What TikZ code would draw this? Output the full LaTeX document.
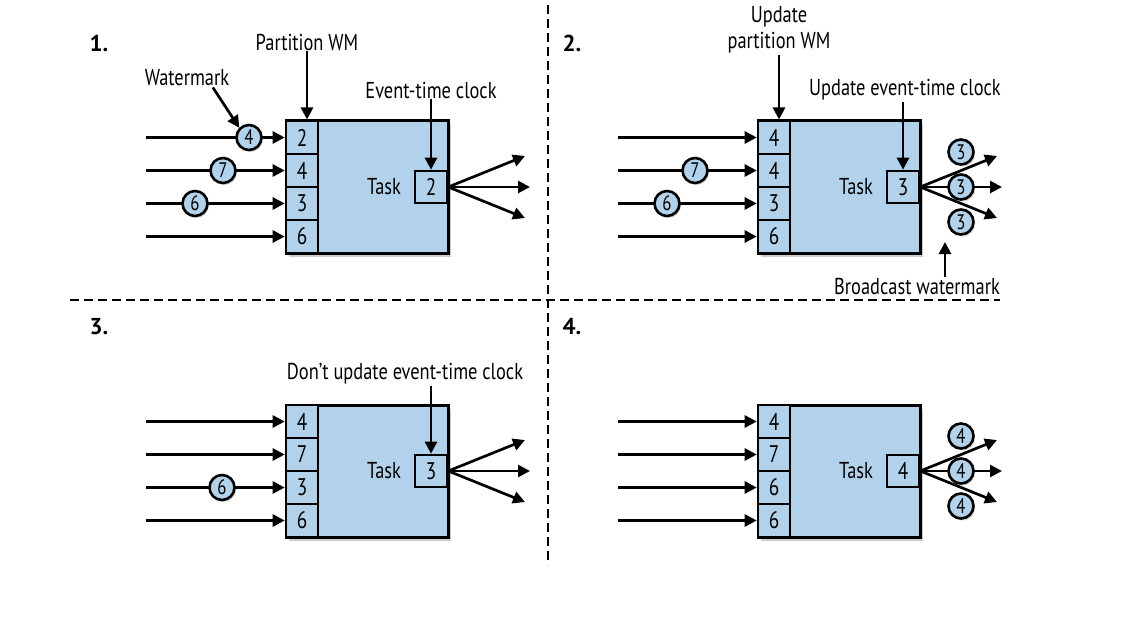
\documentclass[tikz,border=0pt]{standalone}
\usepackage{fontspec}
\setmainfont{PT Sans}[FakeStretch=0.8]
\newfontfamily\numfont{PT Sans}
\usetikzlibrary{arrows.meta,shadows}
\definecolor{taskblue}{RGB}{178,210,236}

\begin{document}
\begin{tikzpicture} [x=1pt, y=-1pt,
                     arr/.style= {line width=2.7pt,
                                  -{Triangle[length=12pt,width=12pt]}},
                     taskbox/.style= {draw, line width=3pt, fill=taskblue,
                                      minimum width=162, minimum height=132,
                                      inner sep=0,
                                      drop shadow={shadow xshift=2.5pt,
                                                   shadow yshift=-3.5pt,
                                                   opacity=0.4}},
                     cell/.style= {draw, line width=2.6pt, fill=taskblue,
                                   minimum width=32, minimum height=33,
                                   inner sep=0,
                                   font=\fontsize{24}{26}\selectfont},
                     wm/.style= {circle, draw, line width=2.6pt,
                                 fill=taskblue, minimum size=25, inner sep=0,
                                 font=\fontsize{21}{22}\selectfont,
                                 drop shadow={shadow xshift=1.5pt,
                                              shadow yshift=-2pt,
                                              opacity=0.35}},
                     lbl/.style= {font=\fontsize{23}{26}\selectfont,
                                  inner sep=1pt},
                     num/.style= {font=\numfont\bfseries\fontsize{23}{25}\selectfont},
                     sep/.style= {line width=2.4pt, dash pattern=on 9pt off 5pt}]

\useasboundingbox (0,0) rectangle (1139,620);

% separators
\draw[sep] (70,300) -- (1000,300);
\draw[sep] (548,5) -- (548,565);

% the four tasks
\foreach \n/\sx/\sy/\va/\vb/\vc/\vd/\vk in {1/0/0/2/4/3/6/2, 2/472/0/4/4/3/6/3,
                                            3/0/284/4/7/3/6/3, 4/472/284/4/7/6/6/4}{%
  \begin{scope}[shift={(\sx,\sy)}]
    \node[taskbox] (task\n) at (367,187) {};
    \foreach \v [count=\i] in {\va,\vb,\vc,\vd}{\node[cell] (c\n;\i) at (302,104.5+33*\i) {\v};}
    \node[cell, minimum width=32, minimum height=32] (clk\n) at (431,187) {\vk};
    \node[lbl, font=\fontsize{23}{26}\selectfont] (tl\n) at (384,187) {Task};
    \foreach \i in {1,...,4}{\coordinate (in\n;\i) at (146,104.5+33*\i);
                             \draw[arr] (in\n;\i) -- (c\n;\i.west);}
    \foreach \k/\ox/\oy in {1/525/156, 2/530/187, 3/525/218}{\coordinate (o\n;\k) at (\ox,\oy);
                                                          \draw[arr] (clk\n.east) -- (o\n;\k);}
  \end{scope}}

% panel numbers
\node[num] (n1) at (99,43) {1.};
\node[num] (n2) at (572,43) {2.};
\node[num] (n3) at (99,327) {3.};
\node[num] (n4) at (572,327) {4.};

% watermarks in the channels
\node[wm] (w1;1) at (249,137.5) {4};
\node[wm] (w1;2) at (223,170.5) {7};
\node[wm] (w1;3) at (195,203.5) {6};
\node[wm] (w2;2) at (695,170.5) {7};
\node[wm] (w2;3) at (667,203.5) {6};
\node[wm] (w3;3) at (222,487.5) {6};

% broadcast watermarks
\foreach \k/\oy in {1/152, 2/187, 3/222}{\node[wm] (b2;\k) at (961,\oy) {3};
                                        \node[wm] (b4;\k) at (961,284+\oy) {4};}

% panel 1
\node[lbl] (wml) at (187,78) {Watermark};
\draw[arr] (wml.-20) -- (w1;1.north west);
\node[lbl] (pwm1) at (307,42) {Partition WM};
\draw[arr] (pwm1.south) -- (pwm1.south |- task1.north);
\node[lbl] (etc1) at (431,90) {Event-time clock};
\draw[arr] (etc1.south -| clk1) -- (clk1.north);

% panel 2
\node[lbl, align=center] (pwm2) at (779,30) {Update\\partition WM};
\draw[arr] (pwm2.south) -- (pwm2.south |- task2.north);
\node[lbl] (etc2) at (905,90) {Update event-time clock};
\draw[arr] (etc2.south -| clk2) -- (clk2.north);
\node[lbl] (bc) at (917,286) {Broadcast watermark};
\coordinate (bctip) at (945,242);
\draw[arr] (bc.north -| bctip) -- (bctip);

% panel 3
\node[lbl] (etc3) at (405,374) {Don't update event-time clock};
\draw[arr] (etc3.south -| clk3) -- (clk3.north);
\end{tikzpicture}
\end{document}
